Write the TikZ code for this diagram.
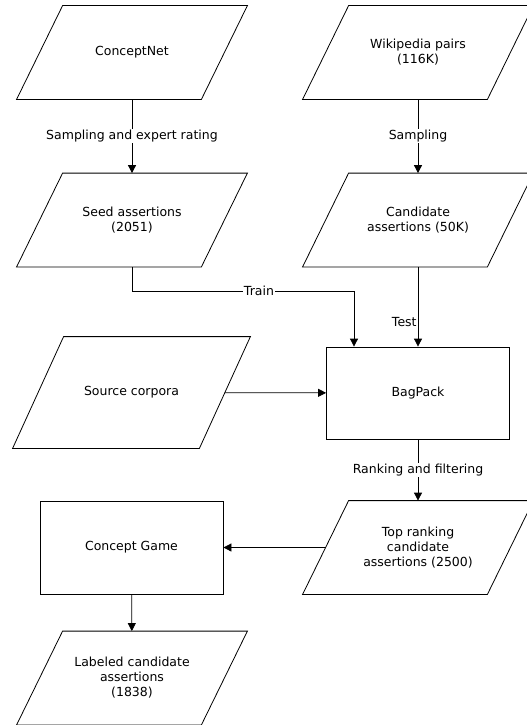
\documentclass[tikz,border=0pt]{standalone}
\usepackage{fontspec}
\setmainfont{DejaVu Sans}
\usetikzlibrary{arrows.meta}
\tikzset{
	iobox/.style={%
		minimum width=#1,
		minimum height=93pt,
		align=center,
		font=\fontsize{12.5}{15}\selectfont
	},
	iobox/.default=184pt,
	procbox/.style={%
		draw,
		minimum width=183pt,
		minimum height=92pt,
		align=center,
		font=\fontsize{12.5}{15}\selectfont
	},
	lbl/.style={fill=white, inner sep=1pt, font=\fontsize{12.5}{15}\selectfont},
	>={Triangle[length=8pt,width=8pt]}
}
% outline of a slanted (input/output) box round a node
\newcommand{\slantbox}[2]{%
	\draw ([xshift=#2]#1.north west) -- ([xshift=#2]#1.north east)
		-- ([xshift=-#2]#1.south east) -- ([xshift=-#2]#1.south west) -- cycle;}

\begin{document}
\begin{tikzpicture}[x=1pt,y=1pt,line width=0.8pt]
		\useasboundingbox (0,0) rectangle (527,-725);
		
		% inputs at the top
		\node[iobox] (cnet) at (132,-52.5) {ConceptNet};
		\node[iobox] (wiki) at (418,-52.5) {Wikipedia pairs\\(116K)};
		
		\node[iobox] (seed) at (132,-220) {Seed assertions\\(2051)};
		\node[iobox] (cand) at (418,-220) {Candidate\\assertions (50K)};
		
		\node[iobox=186pt,minimum height=111pt] (src) at (131.5,-392.5) {Source corpora};
		\node[procbox] (bag) at (418,-393) {BagPack};
		
		\node[procbox,minimum height=93pt] (game) at (131.5,-547.5) {Concept Game};
		\node[iobox] (top) at (418,-547.5) {Top ranking\\candidate\\assertions (2500)};
		
		\node[iobox] (lab) at (132,-678) {Labeled candidate\\assertions\\(1838)};
		
		% slanted outlines
		\foreach \n in {cnet,wiki,seed,cand,top,lab}
			{\slantbox{\n}{23pt}}
		\slantbox{src}{25.5pt}
		
		%arrows between boxes
		\draw[->] (cnet) -- node[lbl] {Sampling and expert rating} (seed);
		\draw[->] (wiki) -- node[lbl] {Sampling} (cand);
		
		\coordinate (tr) at (354,-291);
		\draw[->] (seed.south) |- node[lbl,pos=0.786] {Train} (tr) -- (tr |- bag.north);
		\draw[->] (cand) -- node[left,pos=0.69,inner sep=1pt,font=\fontsize{12.5}{15}\selectfont] {Test} (bag);
		
		\draw[->] (src) -- (bag);
		\draw[->] (bag) -- node[lbl] {Ranking and filtering} (top);
		\draw[->] (top) -- (game);
		\draw[->] (game) -- (lab);
		
\end{tikzpicture}
\end{document}
